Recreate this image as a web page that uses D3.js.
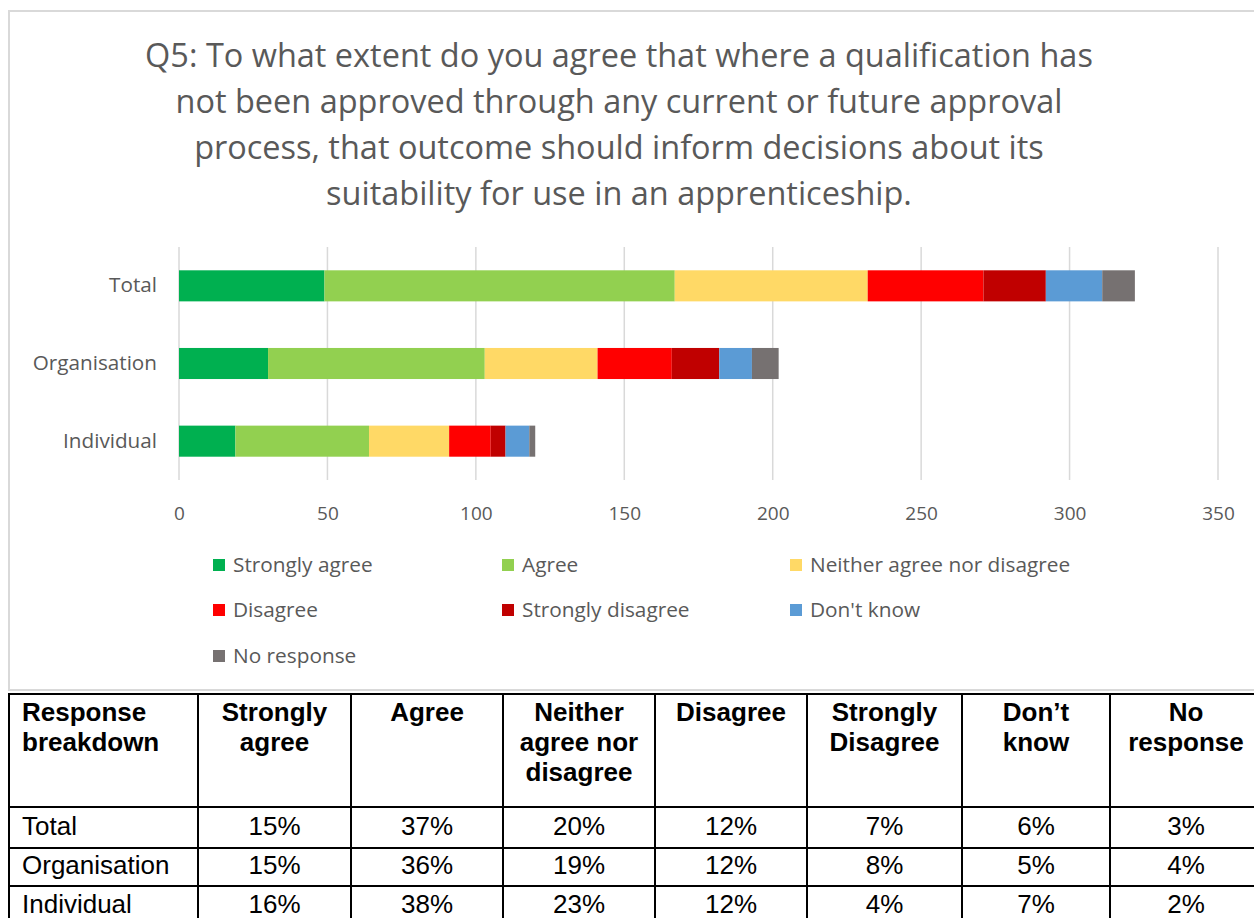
<!DOCTYPE html>
<html>
<head>
<meta charset="utf-8">
<script src="https://cdn.jsdelivr.net/npm/d3@7"></script>
<style>
  html, body { margin: 0; padding: 0; background: #ffffff; }
  svg { display: block; }
</style>
</head>
<body>
<svg id="chart" width="1254" height="918"></svg>
<script>
// ---------------- DATA ----------------
const titleLines = [
  "Q5: To what extent do you agree that where a qualification has",
  "not been approved through any current or future approval",
  "process, that outcome should inform decisions about its",
  "suitability for use in an apprenticeship."
];
const categories = ["Total", "Organisation", "Individual"];
const seriesNames = ["Strongly agree", "Agree", "Neither agree nor disagree", "Disagree", "Strongly disagree", "Don't know", "No response"];
const seriesColors = ["#00B050", "#92D050", "#FFD966", "#FF0000", "#C00000", "#5B9BD5", "#767171"];
const stronglyAgree    = [49, 30, 19];
const agree            = [118, 73, 45];
const neither          = [65, 38, 27];
const disagree         = [39, 25, 14];
const stronglyDisagree = [21, 16, 5];
const dontKnow         = [19, 11, 8];
const noResponse       = [11, 9, 2];
const xTicks = [0, 50, 100, 150, 200, 250, 300, 350];

const tableHeaders = [
  ["Response", "breakdown"],
  ["Strongly", "agree"],
  ["Agree"],
  ["Neither", "agree nor", "disagree"],
  ["Disagree"],
  ["Strongly", "Disagree"],
  ["Don\u2019t", "know"],
  ["No", "response"]
];
const tableRowLabels = ["Total", "Organisation", "Individual"];
const tableTotal        = ["15%", "37%", "20%", "12%", "7%", "6%", "3%"];
const tableOrganisation = ["15%", "36%", "19%", "12%", "8%", "5%", "4%"];
const tableIndividual   = ["16%", "38%", "23%", "12%", "4%", "7%", "2%"];

// ---------------- DRAW ----------------
const svg = d3.select("#chart");
const chartFont = "'Open Sans', 'Noto Sans', sans-serif";
const tableFont = "'Liberation Sans', Arial, sans-serif";
const textGray = "#595959";

// chart frame
svg.append("rect")
  .attr("x", 9).attr("y", 11).attr("width", 1270).attr("height", 679)
  .attr("fill", "#ffffff").attr("stroke", "#d9d9d9").attr("stroke-width", 2);

// title
const titleG = svg.append("g");
const titleBase = [67, 113, 159, 205];
const tTexts = titleG.selectAll("text").data(titleLines).join("text")
  .attr("x", 619).attr("y", (d, i) => titleBase[i])
  .attr("text-anchor", "middle")
  .attr("font-family", chartFont)
  .attr("font-size", 30)
  .attr("fill", textGray)
  .text(d => d);
// fit the first line width to the reference width
const w0 = tTexts.nodes()[0].getComputedTextLength();
const fs = 30 * 948 / w0;
tTexts.attr("font-size", fs);

// scales
const x = d3.scaleLinear().domain([0, 350]).range([179, 1218]);
const y = d3.scaleBand().domain(categories).range([247, 480]).paddingInner(0.6).paddingOuter(0.3);

// gridlines
svg.append("g").selectAll("line").data(xTicks).join("line")
  .attr("x1", d => x(d)).attr("x2", d => x(d))
  .attr("y1", 247).attr("y2", 480)
  .attr("stroke", "#d9d9d9").attr("stroke-width", 1.5);

// x axis labels
const xAxis = d3.axisBottom(x).tickValues(xTicks).tickSize(0).tickPadding(0);
const xg = svg.append("g").attr("transform", "translate(0,506)").call(xAxis);
xg.select(".domain").remove();
xg.selectAll("text")
  .attr("font-family", chartFont).attr("font-size", 19).attr("fill", textGray);

// y axis labels
const yAxis = d3.axisLeft(y).tickSize(0).tickPadding(0);
const yg = svg.append("g").attr("transform", "translate(157,0)").call(yAxis);
yg.select(".domain").remove();
yg.selectAll("text")
  .attr("font-family", chartFont).attr("font-size", 20.7).attr("fill", textGray);

// stacked bars
const seriesArrays = [stronglyAgree, agree, neither, disagree, stronglyDisagree, dontKnow, noResponse];
const rows = categories.map((c, i) => {
  const o = { category: c };
  seriesNames.forEach((s, k) => { o[s] = seriesArrays[k][i]; });
  return o;
});
const stack = d3.stack().keys(seriesNames)(rows);
svg.append("g").selectAll("g").data(stack).join("g")
  .attr("fill", (d, i) => seriesColors[i])
  .selectAll("rect").data(d => d).join("rect")
  .attr("x", d => x(d[0]))
  .attr("width", d => x(d[1]) - x(d[0]))
  .attr("y", d => y(d.data.category))
  .attr("height", y.bandwidth());

// legend
const legendX = [213, 502, 790];
const legendY = [565, 610, 656];
const lg = svg.append("g").selectAll("g").data(seriesNames).join("g")
  .attr("transform", (d, i) => `translate(${legendX[i % 3]},${legendY[Math.floor(i / 3)]})`);
lg.append("rect").attr("x", 0).attr("y", -6).attr("width", 12).attr("height", 12)
  .attr("fill", (d, i) => seriesColors[i]);
lg.append("text").attr("x", 20).attr("y", 0).attr("dy", "0.35em")
  .attr("font-family", chartFont).attr("font-size", 20.8).attr("fill", textGray)
  .text(d => d);

// ---------------- TABLE ----------------
const colX = [9, 198, 351, 503, 655, 807, 962, 1110, 1262];
const rowY = [694, 807, 848, 886, 925];
const tg = svg.append("g");
tg.append("rect").attr("x", 0).attr("y", 692).attr("width", 1254).attr("height", 226).attr("fill", "#ffffff");
tg.selectAll("line.v").data(colX).join("line").attr("class", "v")
  .attr("x1", d => d).attr("x2", d => d).attr("y1", rowY[0]).attr("y2", rowY[4])
  .attr("stroke", "#000").attr("stroke-width", 2);
tg.selectAll("line.h").data(rowY).join("line").attr("class", "h")
  .attr("x1", colX[0] - 1).attr("x2", colX[8]).attr("y1", d => d).attr("y2", d => d)
  .attr("stroke", "#000").attr("stroke-width", 2);

// header
tableHeaders.forEach((lines, c) => {
  const cx = c === 0 ? 22 : (colX[c] + colX[c + 1]) / 2;
  const t = tg.append("text")
    .attr("x", cx).attr("y", 721)
    .attr("text-anchor", c === 0 ? "start" : "middle")
    .attr("font-family", tableFont).attr("font-size", 26).attr("font-weight", "bold")
    .attr("fill", "#000");
  lines.forEach((ln, k) => {
    t.append("tspan").attr("x", cx).attr("y", 721 + k * 30).text(ln);
  });
});

// body rows
const tableRows = [tableTotal, tableOrganisation, tableIndividual];
const rowBase = [835, 874, 913];
tableRows.forEach((vals, r) => {
  tg.append("text").attr("x", 22).attr("y", rowBase[r])
    .attr("font-family", tableFont).attr("font-size", 26).attr("fill", "#000")
    .text(tableRowLabels[r]);
  vals.forEach((v, c) => {
    tg.append("text").attr("x", (colX[c + 1] + colX[c + 2]) / 2).attr("y", rowBase[r])
      .attr("text-anchor", "middle")
      .attr("font-family", tableFont).attr("font-size", 26).attr("fill", "#000")
      .text(v);
  });
});
</script>
</body>
</html>
